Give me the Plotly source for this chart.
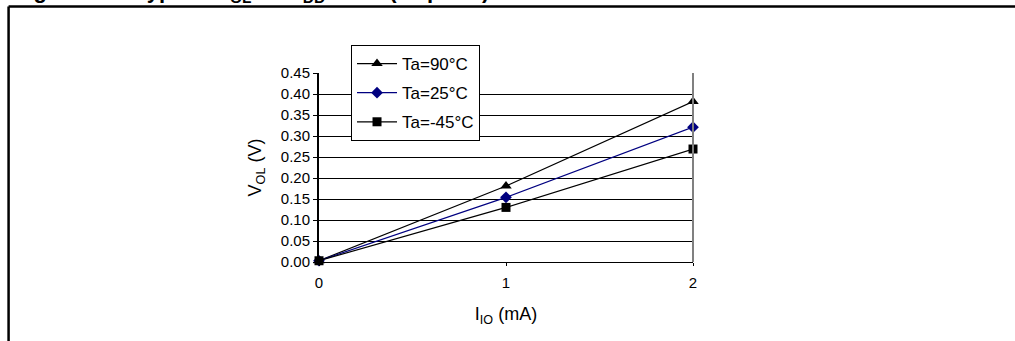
import plotly.graph_objects as go

# output current (mA) and output low voltage (V) per ambient temperature
i_io = [0, 1, 2]
vol_90 = [0.003, 0.181, 0.382]
vol_25 = [0.003, 0.154, 0.321]
vol_m45 = [0.003, 0.130, 0.269]
labels = ["Ta=90°C", "Ta=25°C", "Ta=-45°C"]

font = "Liberation Sans, Arial, sans-serif"

fig = go.Figure()
fig.add_trace(go.Scatter(x=i_io, y=vol_90, name=labels[0], mode="lines+markers",
                         legendgroup="a", cliponaxis=False,
                         line=dict(color="black", width=1.2),
                         marker=dict(symbol="triangle-up", size=10, color="black")))
fig.add_trace(go.Scatter(x=i_io, y=vol_25, name=labels[1], mode="lines+markers",
                         legendgroup="b", cliponaxis=False,
                         line=dict(color="#000080", width=1.2),
                         marker=dict(symbol="diamond", size=9, color="#000080")))
fig.add_trace(go.Scatter(x=i_io, y=vol_m45, name=labels[2], mode="lines+markers",
                         legendgroup="c", cliponaxis=False,
                         line=dict(color="black", width=1.2),
                         marker=dict(symbol="square", size=9, color="black")))

fig.update_layout(
    width=1015, height=341,
    margin=dict(l=319, r=322, t=73, b=79),
    paper_bgcolor="white", plot_bgcolor="white",
    font=dict(family=font, size=15, color="black"),
    showlegend=True,
    legend=dict(x=0.0856, y=1.148, xanchor="left", yanchor="top",
                bgcolor="white", bordercolor="black", borderwidth=1,
                tracegroupgap=4, itemwidth=40, font=dict(size=17)),
    xaxis=dict(range=[0, 2], tickvals=[0, 1, 2], showgrid=False, zeroline=False,
               showline=True, linecolor="black", linewidth=1,
               ticks="outside", ticklen=3, tickcolor="black", ticklabelstandoff=4,
               title=dict(text="I<sub>IO</sub> (mA)", standoff=17)),
    yaxis=dict(range=[0, 0.45], dtick=0.05, tickformat=".2f", zeroline=False,
               showgrid=True, gridcolor="black", gridwidth=1,
               showline=True, linecolor="black", linewidth=2,
               ticks="outside", ticklen=4, tickcolor="black",
               title=dict(text="V<sub>OL</sub> (V)", standoff=14)),
    annotations=[dict(text="<b>Figure 115. Typical V<sub>OL</sub> vs V<sub>DD</sub> = 5 V (all ports)</b>",
                      xref="paper", yref="paper", x=-0.821, y=1.514, xanchor="left",
                      yanchor="top", showarrow=False, font=dict(size=22))],
    shapes=[
        dict(type="line", xref="paper", yref="paper", x0=1, x1=1, y0=0, y1=1,
             line=dict(color="#808080", width=2)),
        dict(type="line", xref="paper", yref="paper", x0=-0.83, x1=1.9, y0=1.352, y1=1.352,
             line=dict(color="black", width=2.5)),
        dict(type="line", xref="paper", yref="paper", x0=-0.83, x1=-0.83, y0=1.352, y1=-0.5,
             line=dict(color="black", width=2.5)),
    ],
)

fig.write_html("out.html", config={"displayModeBar": False},
               post_script="document.body.style.margin='0';")
